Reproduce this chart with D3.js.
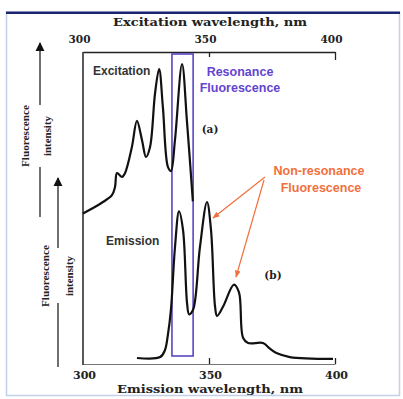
<!DOCTYPE html>
<html>
<head>
<meta charset="utf-8">
<script src="https://cdn.jsdelivr.net/npm/d3@7"></script>
<style>
  html, body { margin: 0; padding: 0; background: #fff; }
  svg { display: block; }
</style>
</head>
<body>
<svg id="chart" width="403" height="399"></svg>
<script>
// ---- data ----
const axisTitleTop = "Excitation wavelength, nm";
const axisTitleBottom = "Emission wavelength, nm";
const tickValues = [300, 350, 400];
const tickLabels = ["300", "350", "400"];

// Excitation spectrum (nm, relative intensity)
const excitationWl = [300, 304, 307.9, 311.5, 312.7, 313.5, 315.5, 316.7, 319.4, 321.4, 323.4, 325, 326.6, 328.6, 330.2, 331.7, 333.7, 334.9, 336.5, 339.3, 341.3, 343.6];
const excitationI  = [1, 4.6, 8.6, 13.2, 18.5, 27.8, 25.2, 27.8, 45, 62.3, 49.7, 38.4, 45, 80.8, 96.7, 71.5, 31.8, 29.1, 49.7, 100, 61, 9];

// Emission spectrum (nm, relative intensity)
const emissionWl = [321.4, 330.6, 332.5, 333.7, 334.9, 336.5, 338.1, 339.7, 341.3, 342.1, 343.7, 346.4, 349.2, 350.8, 352.4, 353.2, 355.6, 359.9, 361.9, 363.5, 365.5, 371.4, 374.2, 377, 382.1, 399.2];
const emissionI  = [0, 0.6, 5, 15, 31, 71, 94, 82, 35, 28, 31, 71, 100, 82, 33, 27, 33, 47, 42, 13, 9.6, 9.6, 6, 3, 0.6, -0.6];

// Resonance window (nm)
const resonanceWindow = [335.3, 343.7];

const labels = {
  excitation: "Excitation",
  emission: "Emission",
  resonance: ["Resonance", "Fluorescence"],
  nonResonance: ["Non-resonance", "Fluorescence"],
  a: "(a)",
  b: "(b)",
  yLabel: ["Fluorescence", "intensity"]
};

(function () {
// ---- layout ----
const svg = d3.select("#chart");
const pL = 83, pR = 335, pT = 52, pB = 364;

// frame
svg.append("rect").attr("x", 6.5).attr("y", 12.5).attr("width", 393).attr("height", 383)
  .attr("fill", "#fff").attr("stroke", "#c3d0ea").attr("stroke-width", 1.5);
svg.append("rect").attr("x", 6).attr("y", 11.5).attr("width", 394).attr("height", 2.5)
  .attr("fill", "#1b2470");

const x = d3.scaleLinear().domain([300, 400]).range([pL, pR]);
const yA = d3.scaleLinear().domain([0, 100]).range([215, 64]);
const yB = d3.scaleLinear().domain([0, 100]).range([358, 202]);

const serif = "'DejaVu Serif', 'Liberation Serif', serif";
const sans = "'Liberation Sans', Arial, sans-serif";

// top axis
const topAxis = d3.axisTop(x).tickValues(tickValues).tickFormat((d, i) => tickLabels[i])
  .tickSize(-6).tickSizeOuter(0).tickPadding(8);
const gTop = svg.append("g").attr("transform", `translate(0,${pT})`).call(topAxis);
gTop.select(".domain").attr("stroke", "#222").attr("stroke-width", 1.3);
gTop.selectAll(".tick line").attr("stroke", "#222").attr("stroke-width", 1.3)
  .attr("y2", d => d === 400 ? 8 : (d === 350 ? 5 : 0));
gTop.selectAll(".tick text").attr("font-family", serif).attr("font-weight", "bold")
  .attr("font-size", 11).attr("fill", "#222").attr("dx", -4).attr("y", -9)
  .attr("textLength", 22).attr("lengthAdjust", "spacingAndGlyphs");

// bottom axis
const bottomAxis = d3.axisBottom(x).tickValues(tickValues).tickFormat((d, i) => tickLabels[i])
  .tickSize(-6).tickSizeOuter(0).tickPadding(8);
const gBot = svg.append("g").attr("transform", `translate(0,${pB})`).call(bottomAxis);
gBot.select(".domain").attr("stroke", "#777").attr("stroke-width", 1);
gBot.selectAll(".tick line").attr("stroke", "#222").attr("stroke-width", 1.3)
  .attr("y2", d => d === 300 ? 0 : -6);
gBot.selectAll(".tick text").attr("font-family", serif).attr("font-weight", "bold")
  .attr("font-size", 11).attr("fill", "#222").attr("dx", 1).attr("y", 7)
  .attr("textLength", 23).attr("lengthAdjust", "spacingAndGlyphs");

// left axis line
svg.append("line").attr("x1", pL).attr("x2", pL).attr("y1", pT).attr("y2", pB + 1)
  .attr("stroke", "#222").attr("stroke-width", 1.5);

// axis titles
svg.append("text").attr("x", 210).attr("y", 26).attr("text-anchor", "middle")
  .attr("font-family", serif).attr("font-weight", "bold").attr("font-size", 11.5).attr("fill", "#222")
  .attr("textLength", 194).attr("lengthAdjust", "spacingAndGlyphs").text(axisTitleTop);
svg.append("text").attr("x", 210).attr("y", 393).attr("text-anchor", "middle")
  .attr("font-family", serif).attr("font-weight", "bold").attr("font-size", 11.5).attr("fill", "#222")
  .attr("textLength", 186).attr("lengthAdjust", "spacingAndGlyphs").text(axisTitleBottom);

// resonance rectangle
svg.append("rect")
  .attr("x", x(resonanceWindow[0])).attr("y", 54)
  .attr("width", x(resonanceWindow[1]) - x(resonanceWindow[0])).attr("height", 356 - 54)
  .attr("fill", "none").attr("stroke", "#5a46c4").attr("stroke-width", 1.6);

// curves
const line = (ys) => d3.line().x(d => x(d[0])).y(d => ys(d[1])).curve(d3.curveCatmullRom.alpha(0.5));
const excData = excitationWl.map((w, i) => [w, excitationI[i]]);
const emData = emissionWl.map((w, i) => [w, emissionI[i]]);

svg.append("path").datum(emData).attr("d", line(yB))
  .attr("fill", "none").attr("stroke", "#111").attr("stroke-width", 2.2).attr("stroke-linejoin", "round");
svg.append("path").datum(excData).attr("d", line(yA))
  .attr("fill", "none").attr("stroke", "#111").attr("stroke-width", 2.2).attr("stroke-linejoin", "round");

// annotations
svg.append("text").attr("x", 93).attr("y", 75).attr("font-family", sans).attr("font-weight", "bold")
  .attr("font-size", 12).attr("fill", "#333").text(labels.excitation);
svg.append("text").attr("x", 106).attr("y", 245).attr("font-family", sans).attr("font-weight", "bold")
  .attr("font-size", 12).attr("fill", "#333").text(labels.emission);

const res = svg.append("text").attr("font-family", sans).attr("font-weight", "bold")
  .attr("font-size", 12.5).attr("fill", "#6444d0").attr("text-anchor", "middle");
res.append("tspan").attr("x", 240).attr("y", 76).text(labels.resonance[0]);
res.append("tspan").attr("x", 240).attr("y", 92).text(labels.resonance[1]);

const nres = svg.append("text").attr("font-family", sans).attr("font-weight", "bold")
  .attr("font-size", 12.5).attr("fill", "#f2703e").attr("text-anchor", "middle");
nres.append("tspan").attr("x", 319).attr("y", 175).text(labels.nonResonance[0]);
nres.append("tspan").attr("x", 321).attr("y", 192).text(labels.nonResonance[1]);

svg.append("text").attr("x", 210).attr("y", 133).attr("text-anchor", "middle")
  .attr("font-family", serif).attr("font-weight", "bold").attr("font-size", 10.5).attr("fill", "#222").text(labels.a);
svg.append("text").attr("x", 273).attr("y", 279).attr("text-anchor", "middle")
  .attr("font-family", serif).attr("font-weight", "bold").attr("font-size", 10.5).attr("fill", "#222").text(labels.b);

// markers
const defs = svg.append("defs");
defs.append("marker").attr("id", "ah").attr("viewBox", "0 0 10 10").attr("refX", 9).attr("refY", 5)
  .attr("markerWidth", 6).attr("markerHeight", 6).attr("orient", "auto")
  .append("path").attr("d", "M0,1 L10,5 L0,9 Z").attr("fill", "#f2703e");
defs.append("marker").attr("id", "ak").attr("viewBox", "0 0 10 10").attr("refX", 9).attr("refY", 5)
  .attr("markerWidth", 7).attr("markerHeight", 7).attr("orient", "auto")
  .append("path").attr("d", "M0,0 L10,5 L0,10 Z").attr("fill", "#111");

// orange arrows
svg.append("line").attr("x1", 265).attr("y1", 177).attr("x2", 213).attr("y2", 218)
  .attr("stroke", "#f2703e").attr("stroke-width", 1.2).attr("marker-end", "url(#ah)");
svg.append("line").attr("x1", 264).attr("y1", 180).attr("x2", 236).attr("y2", 277)
  .attr("stroke", "#f2703e").attr("stroke-width", 1.2).attr("marker-end", "url(#ah)");

// left y-labels with arrows
function yLabel(ax, arrowTop, arrowBot, textBot, endBot, cy, x1, x2) {
  svg.append("line").attr("x1", ax).attr("x2", ax).attr("y1", arrowBot).attr("y2", arrowTop)
    .attr("stroke", "#222").attr("stroke-width", 1.3).attr("marker-end", "url(#ak)");
  svg.append("line").attr("x1", ax).attr("x2", ax).attr("y1", textBot).attr("y2", endBot)
    .attr("stroke", "#222").attr("stroke-width", 1.3);
  svg.append("text").attr("transform", `translate(${x1},${cy}) rotate(-90)`).attr("text-anchor", "middle")
    .attr("font-family", "'Liberation Serif', serif").attr("font-weight", "bold").attr("font-size", 10.5)
    .attr("fill", "#222").attr("textLength", 62).attr("lengthAdjust", "spacingAndGlyphs").text(labels.yLabel[0]);
  svg.append("text").attr("transform", `translate(${x2},${cy}) rotate(-90)`).attr("text-anchor", "middle")
    .attr("font-family", "'Liberation Serif', serif").attr("font-weight", "bold").attr("font-size", 10.5)
    .attr("fill", "#222").attr("textLength", 40).attr("lengthAdjust", "spacingAndGlyphs").text(labels.yLabel[1]);
}
yLabel(40, 43, 105, 167, 217, 136, 29, 51);
yLabel(58, 178, 248, 303, 367, 276, 49, 73);
})();
</script>
</body>
</html>
